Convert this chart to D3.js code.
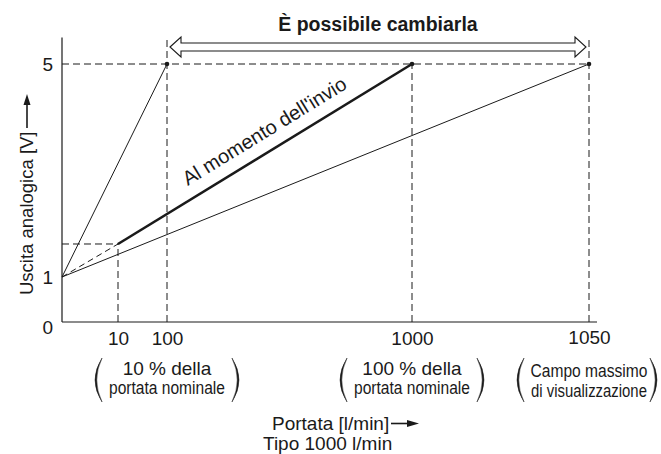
<!DOCTYPE html>
<html>
<head>
<meta charset="utf-8">
<script src="https://cdn.jsdelivr.net/npm/d3@7"></script>
<style>
  html, body { margin: 0; padding: 0; background: #fff; }
  svg { display: block; font-family: "Liberation Sans", Arial, Helvetica, sans-serif; }
</style>
</head>
<body>
<svg id="chart" width="661" height="454"></svg>
<script>
// ---- data ----
const xBreaks = [0, 10, 100, 1000, 1050];          // schematic flow breakpoints [l/min]
const yBreaks = [0, 1, 5];                          // output breakpoints [V]
const xTicks = [10, 100, 1000, 1050];
const yTicks = [0, 1, 5];
const yTop = 5.5;                                   // top end of axis / range guides
const lowFlow = 10, lowOut = 1.62;                  // low-flow point of the factory line
const factoryLine = [[lowFlow, lowOut], [1000, 5]];          // "Al momento dell'invio"
const factoryExt  = [[0, 1], [lowFlow, lowOut]];             // dashed extension
const minRange    = [[0, 1], [100, 5]];
const maxRange    = [[0, 1], [1050, 5]];
const fullScale   = [100, 1000, 1050];                        // points at 5 V
const notePos     = [100, 1000, 1050];
const noteTop     = ["10 % della", "100 % della", "Campo massimo"];
const noteBottom  = ["portata nominale", "portata nominale", "di visualizzazione"];
const titleText   = "È possibile cambiarla";
const lineLabel   = "Al momento dell'invio";
const yLabel      = "Uscita analogica [V]";
const xLabel1     = "Portata [l/min]";
const xLabel2     = "Tipo 1000 l/min";

// ---- scales (piecewise, schematic) ----
const svg = d3.select("#chart");
const x = d3.scaleLinear().domain(xBreaks).range([62, 118, 167, 412, 589]);
const y = d3.scaleLinear().domain(yBreaks).range([322, 277, 64]);

const ink = "#1a1a1a";
const dash = "7,4";
const line = d3.line().x(d => x(d[0])).y(d => y(d[1]));

// ---- dashed guides ----
const g = svg.append("g");
const guides = [
  [[0, 5], [1050, 5]],
  [[0, lowOut], [lowFlow, lowOut]],
  [[lowFlow, 0], [lowFlow, lowOut]],
  [[100, 0], [100, yTop]],
  [[1000, 0], [1000, 5]],
  [[1050, 0], [1050, yTop]]
];
g.selectAll("path.guide").data(guides).join("path")
  .attr("class", "guide")
  .attr("d", line)
  .attr("fill", "none").attr("stroke", ink).attr("stroke-width", 1)
  .attr("stroke-dasharray", dash);

// ---- characteristic lines ----
g.append("path").attr("d", line(minRange)).attr("fill", "none").attr("stroke", ink).attr("stroke-width", 1);
g.append("path").attr("d", line(maxRange)).attr("fill", "none").attr("stroke", ink).attr("stroke-width", 1);
g.append("path").attr("d", line(factoryExt)).attr("fill", "none").attr("stroke", ink).attr("stroke-width", 1).attr("stroke-dasharray", "6,4");
g.append("path").attr("d", line(factoryLine)).attr("fill", "none").attr("stroke", ink).attr("stroke-width", 2.6);

g.selectAll("circle.pt").data(fullScale).join("circle")
  .attr("class", "pt").attr("cx", d => x(d)).attr("cy", y(5)).attr("r", 2.3).attr("fill", ink);

// ---- axes ----
svg.append("line").attr("x1", x(0)).attr("x2", x(0)).attr("y1", y(0)).attr("y2", y(yTop))
  .attr("stroke", ink).attr("stroke-width", 1.2);
svg.append("line").attr("x1", x(0)).attr("x2", x(1050) + 8).attr("y1", y(0)).attr("y2", y(0))
  .attr("stroke", ink).attr("stroke-width", 1.2);

const xAxis = svg.append("g").attr("transform", `translate(0,${y(0)})`)
  .call(d3.axisBottom(x).tickValues(xTicks).tickSize(0).tickPadding(10).tickFormat(d3.format("d")));
xAxis.select(".domain").remove();
xAxis.selectAll("text").attr("font-size", 19).attr("fill", ink).attr("font-family", null);
xAxis.selectAll(".tick").filter(d => d === 1050).select("text").attr("dy", "0.62em");

const yAxis = svg.append("g").attr("transform", `translate(${x(0)},0)`)
  .call(d3.axisLeft(y).tickValues(yTicks).tickSize(0).tickPadding(9).tickFormat(d3.format("d")));
yAxis.select(".domain").remove();
yAxis.selectAll("text").attr("font-size", 19).attr("fill", ink).attr("font-family", null);
yAxis.selectAll(".tick").filter(d => d === 0).select("text").attr("dy", "0.6em");

// ---- "È possibile cambiarla" double arrow ----
const ax0 = x(100) + 3, ax1 = x(1050) - 3, acy = y(5) - 17;
const sw = 4, hw = 10, hl = 11;
const arrowPath = d3.path();
arrowPath.moveTo(ax0, acy);
arrowPath.lineTo(ax0 + hl, acy - hw);
arrowPath.lineTo(ax0 + hl, acy - sw);
arrowPath.lineTo(ax1 - hl, acy - sw);
arrowPath.lineTo(ax1 - hl, acy - hw);
arrowPath.lineTo(ax1, acy);
arrowPath.lineTo(ax1 - hl, acy + hw);
arrowPath.lineTo(ax1 - hl, acy + sw);
arrowPath.lineTo(ax0 + hl, acy + sw);
arrowPath.lineTo(ax0 + hl, acy + hw);
arrowPath.closePath();
svg.append("path").attr("d", arrowPath.toString()).attr("fill", "#fff").attr("stroke", ink).attr("stroke-width", 1.1)
  .attr("stroke-linejoin", "miter");

svg.append("text").attr("x", (x(100) + x(1050)) / 2).attr("y", acy - 16)
  .attr("text-anchor", "middle").attr("font-size", 19.5).attr("font-weight", "bold").attr("fill", ink)
  .text(titleText);

// ---- line label ----
const p0 = [x(factoryLine[0][0]), y(factoryLine[0][1])];
const p1 = [x(factoryLine[1][0]), y(factoryLine[1][1])];
const ang = Math.atan2(p1[1] - p0[1], p1[0] - p0[0]);
const t = 0.26, off = 13;
const lx = p0[0] + (p1[0] - p0[0]) * t + Math.sin(ang) * off;
const ly = p0[1] + (p1[1] - p0[1]) * t - Math.cos(ang) * off;
svg.append("text").attr("transform", `translate(${lx},${ly}) rotate(${ang * 180 / Math.PI})`)
  .attr("font-size", 20).attr("fill", ink).text(lineLabel);

// ---- y label ----
svg.append("text").attr("transform", `translate(33,${y(0) - 27}) rotate(-90)`)
  .attr("font-size", 18.5).attr("fill", ink).text(yLabel);
svg.append("line").attr("x1", 27).attr("x2", 27).attr("y1", 128).attr("y2", 103)
  .attr("stroke", ink).attr("stroke-width", 1.6);
svg.append("path").attr("d", "M27,94 L23.5,105 L30.5,105 Z").attr("fill", ink);

// ---- notes under the x axis ----
function condensed(sel, cx, cy, txt, size, width) {
  const tEl = sel.append("text").attr("text-anchor", "middle").attr("x", 0).attr("y", 0)
    .attr("font-size", size).attr("fill", ink).text(txt);
  const w = tEl.node().getComputedTextLength();
  const s = Math.min(1, width / w);
  tEl.attr("transform", `translate(${cx},${cy}) scale(${s},1)`);
}
notePos.forEach((v, i) => {
  const grp = svg.append("g").attr("class", "note");
  const cx = x(v);
  if (i === 2) condensed(grp, cx, 377, noteTop[i], 18.5, 117);
  else grp.append("text").attr("x", cx).attr("y", 375).attr("text-anchor", "middle")
          .attr("font-size", 19).attr("fill", ink).text(noteTop[i]);
  condensed(grp, cx, i === 2 ? 397 : 394, noteBottom[i], 18.5, 116);
  grp.append("path").attr("transform", `translate(${cx},0)`)
    .attr("d", "M-65,358 Q-79,380 -65,402 Q-75.5,380 -65,358 Z").attr("fill", ink).attr("stroke", ink).attr("stroke-width", 0.5);
  grp.append("path").attr("transform", `translate(${Math.min(cx, 585)},0)`)
    .attr("d", "M65,358 Q79,380 65,402 Q75.5,380 65,358 Z").attr("fill", ink).attr("stroke", ink).attr("stroke-width", 0.5);
});

// ---- x label ----
svg.append("text").attr("x", 272).attr("y", 430).attr("font-size", 19).attr("fill", ink).text(xLabel1);
svg.append("line").attr("x1", 391).attr("x2", 409).attr("y1", 423.5).attr("y2", 423.5).attr("stroke", ink).attr("stroke-width", 1.6);
svg.append("path").attr("d", "M419,423.5 L407,420 L407,427 Z").attr("fill", ink);
svg.append("text").attr("x", 263).attr("y", 450).attr("font-size", 19).attr("fill", ink).text(xLabel2);
</script>
</body>
</html>
